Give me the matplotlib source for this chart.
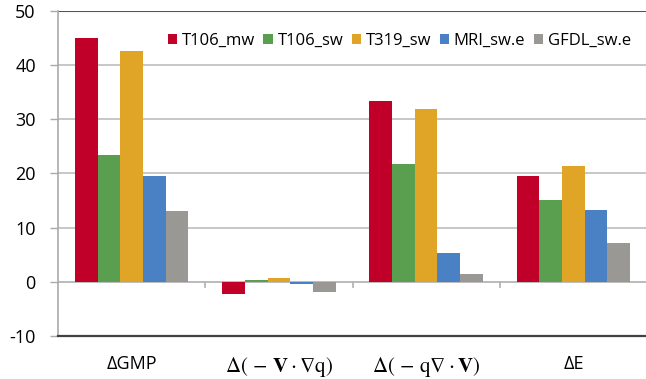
import numpy as np
import matplotlib.pyplot as plt

plt.rcParams['font.family'] = ['Open Sans', 'DejaVu Sans']
plt.rcParams['mathtext.fontset'] = 'stix'
plt.rcParams['axes.unicode_minus'] = False

# budget terms and model runs
terms = ['ΔGMP',
         r'$\Delta(\,-\,\mathbf{V}\cdot\nabla \mathrm{q})$',
         r'$\Delta(\,-\,\mathrm{q}\nabla\cdot\mathbf{V})$',
         'ΔE']
runs = ['T106_mw', 'T106_sw', 'T319_sw', 'MRI_sw.e', 'GFDL_sw.e']

t106_mw = [45.0, -2.2, 33.4, 19.6]
t106_sw = [23.4, 0.4, 21.8, 15.1]
t319_sw = [42.6, 0.7, 31.9, 21.3]
mri_swe = [19.6, -0.4, 5.4, 13.3]
gfdl_swe = [13.1, -1.9, 1.5, 7.2]

series = [t106_mw, t106_sw, t319_sw, mri_swe, gfdl_swe]
colors = ['#C00028', '#5A9E50', '#E0A526', '#4A80C4', '#999894']

fig = plt.figure(figsize=(6.46, 3.79), dpi=100)
ax = fig.add_axes([58 / 646, 1 - 336 / 379, 589 / 646, 325 / 379])

x = np.arange(len(terms))
width = 1 / 6.5
for i, (vals, c) in enumerate(zip(series, colors)):
    ax.bar(x + (i - 2) * width, vals, width, color=c, label=runs[i], zorder=3)

ax.set_xlim(-0.5, 3.5)
ax.set_ylim(-10, 50)
ax.set_yticks(range(-10, 51, 10))
ax.set_xticks(x)
ax.set_xticklabels(terms, fontsize=13)
for lbl in ax.get_xticklabels()[1:3]:
    lbl.set_fontsize(15)
ax.tick_params(axis='x', length=0, pad=14)
ax.tick_params(axis='y', length=6, width=1, color='#AAAAAA', labelsize=13, pad=10)

# gridlines and zero axis
for v in range(10, 50, 10):
    ax.axhline(v, color='#BDBDBD', lw=1.2, zorder=1)
ax.axhline(50, color='#555555', lw=1.5, zorder=1)
ax.axhline(0, color='#B5B5B5', lw=1.3, zorder=2)
for b in [0.5, 1.5, 2.5]:
    ax.plot([b, b], [0, -1.0], color='#B5B5B5', lw=1.3, zorder=2)

for s in ['top', 'right']:
    ax.spines[s].set_visible(False)
ax.spines['left'].set_color('#AAAAAA')
ax.spines['left'].set_linewidth(1.2)
ax.spines['bottom'].set_color('#404040')
ax.spines['bottom'].set_linewidth(1.6)

fig.legend(loc='upper right', bbox_to_anchor=(646 / 646, 1 - 18 / 379), ncol=5,
           frameon=False, fontsize=12, handlelength=0.55, handleheight=0.55,
           handletextpad=0.3, columnspacing=0.5)

fig.savefig('out.png', dpi=100)
